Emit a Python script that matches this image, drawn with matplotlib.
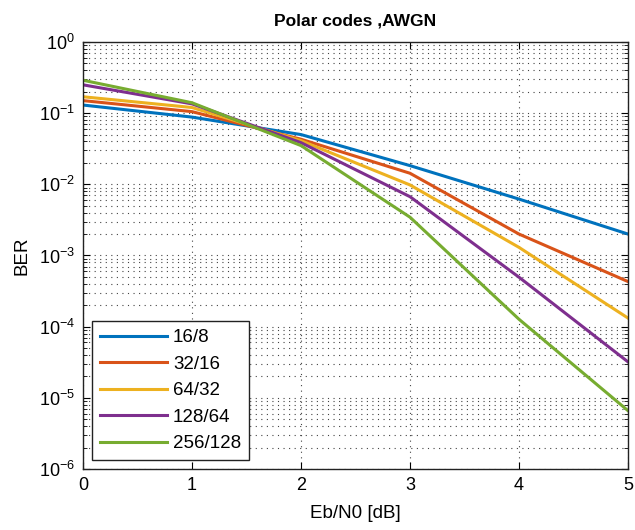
import matplotlib
matplotlib.use("Agg")
import matplotlib.pyplot as plt
import numpy as np
from matplotlib.ticker import LogLocator, FixedLocator, NullFormatter

plt.rcParams['font.family'] = ['Liberation Sans', 'DejaVu Sans']
plt.rcParams['mathtext.fontset'] = 'custom'
plt.rcParams['mathtext.rm'] = 'Liberation Sans'
plt.rcParams['mathtext.it'] = 'Liberation Sans'

ebn0 = [0, 1, 2, 3, 4, 5]
labels = ["16/8", "32/16", "64/32", "128/64", "256/128"]
ber_16_8 = [0.13, 0.088, 0.050, 0.0183, 0.0062, 0.0020]
ber_32_16 = [0.15, 0.105, 0.043, 0.0143, 0.0020, 0.00043]
ber_64_32 = [0.17, 0.12, 0.041, 0.0098, 0.0013, 0.000132]
ber_128_64 = [0.25, 0.135, 0.0385, 0.0067, 0.000495, 3.2e-5]
ber_256_128 = [0.29, 0.14, 0.035, 0.00345, 0.000127, 6.6e-6]
series = [ber_16_8, ber_32_16, ber_64_32, ber_128_64, ber_256_128]
colors = ["#0072BD", "#D95319", "#EDB120", "#7E2F8E", "#77AC30"]

fig = plt.figure(figsize=(6.35, 5.3), dpi=100)
ax = fig.add_axes([0.1307, 0.1151, 0.8583, 0.8057])

for s, c, l in zip(series, colors, labels):
    ax.semilogy(ebn0, s, color=c, lw=2.2, label=l)

ax.set_xlim(0, 5)
ax.set_ylim(1e-6, 1)
ax.xaxis.set_major_locator(FixedLocator([0, 1, 2, 3, 4, 5]))
ax.yaxis.set_major_locator(LogLocator(base=10, numticks=10))
ax.yaxis.set_minor_locator(LogLocator(base=10, subs=np.arange(2, 10), numticks=20))
ax.yaxis.set_minor_formatter(NullFormatter())

dot = (0, (1, 4))
ax.grid(True, which='major', axis='both', color='#444444', linestyle=dot, lw=0.8)
ax.grid(True, which='minor', axis='y', color='#444444', linestyle=dot, lw=0.8)

ax.tick_params(which='both', direction='in', top=True, right=True, labelsize=13)
ax.tick_params(which='major', length=5, pad=6)
ax.tick_params(which='minor', length=3)
for sp in ax.spines.values():
    sp.set_linewidth(1.0)
    sp.set_color('#222222')

ax.set_title("Polar codes ,AWGN", fontsize=12.5, fontweight='bold', pad=12)
ax.set_xlabel("Eb/N0 [dB]", fontsize=13.5, labelpad=8)
ax.set_ylabel("BER", fontsize=13.5, labelpad=6)

leg = ax.legend(loc='lower left', fontsize=13.5, frameon=True, fancybox=False,
                edgecolor='#222222', framealpha=1, handlelength=3.6,
                handletextpad=0.3, borderaxespad=0.5, labelspacing=0.5,
                borderpad=0.4)
leg.get_frame().set_linewidth(1.0)

fig.savefig("out.png", dpi=100)
